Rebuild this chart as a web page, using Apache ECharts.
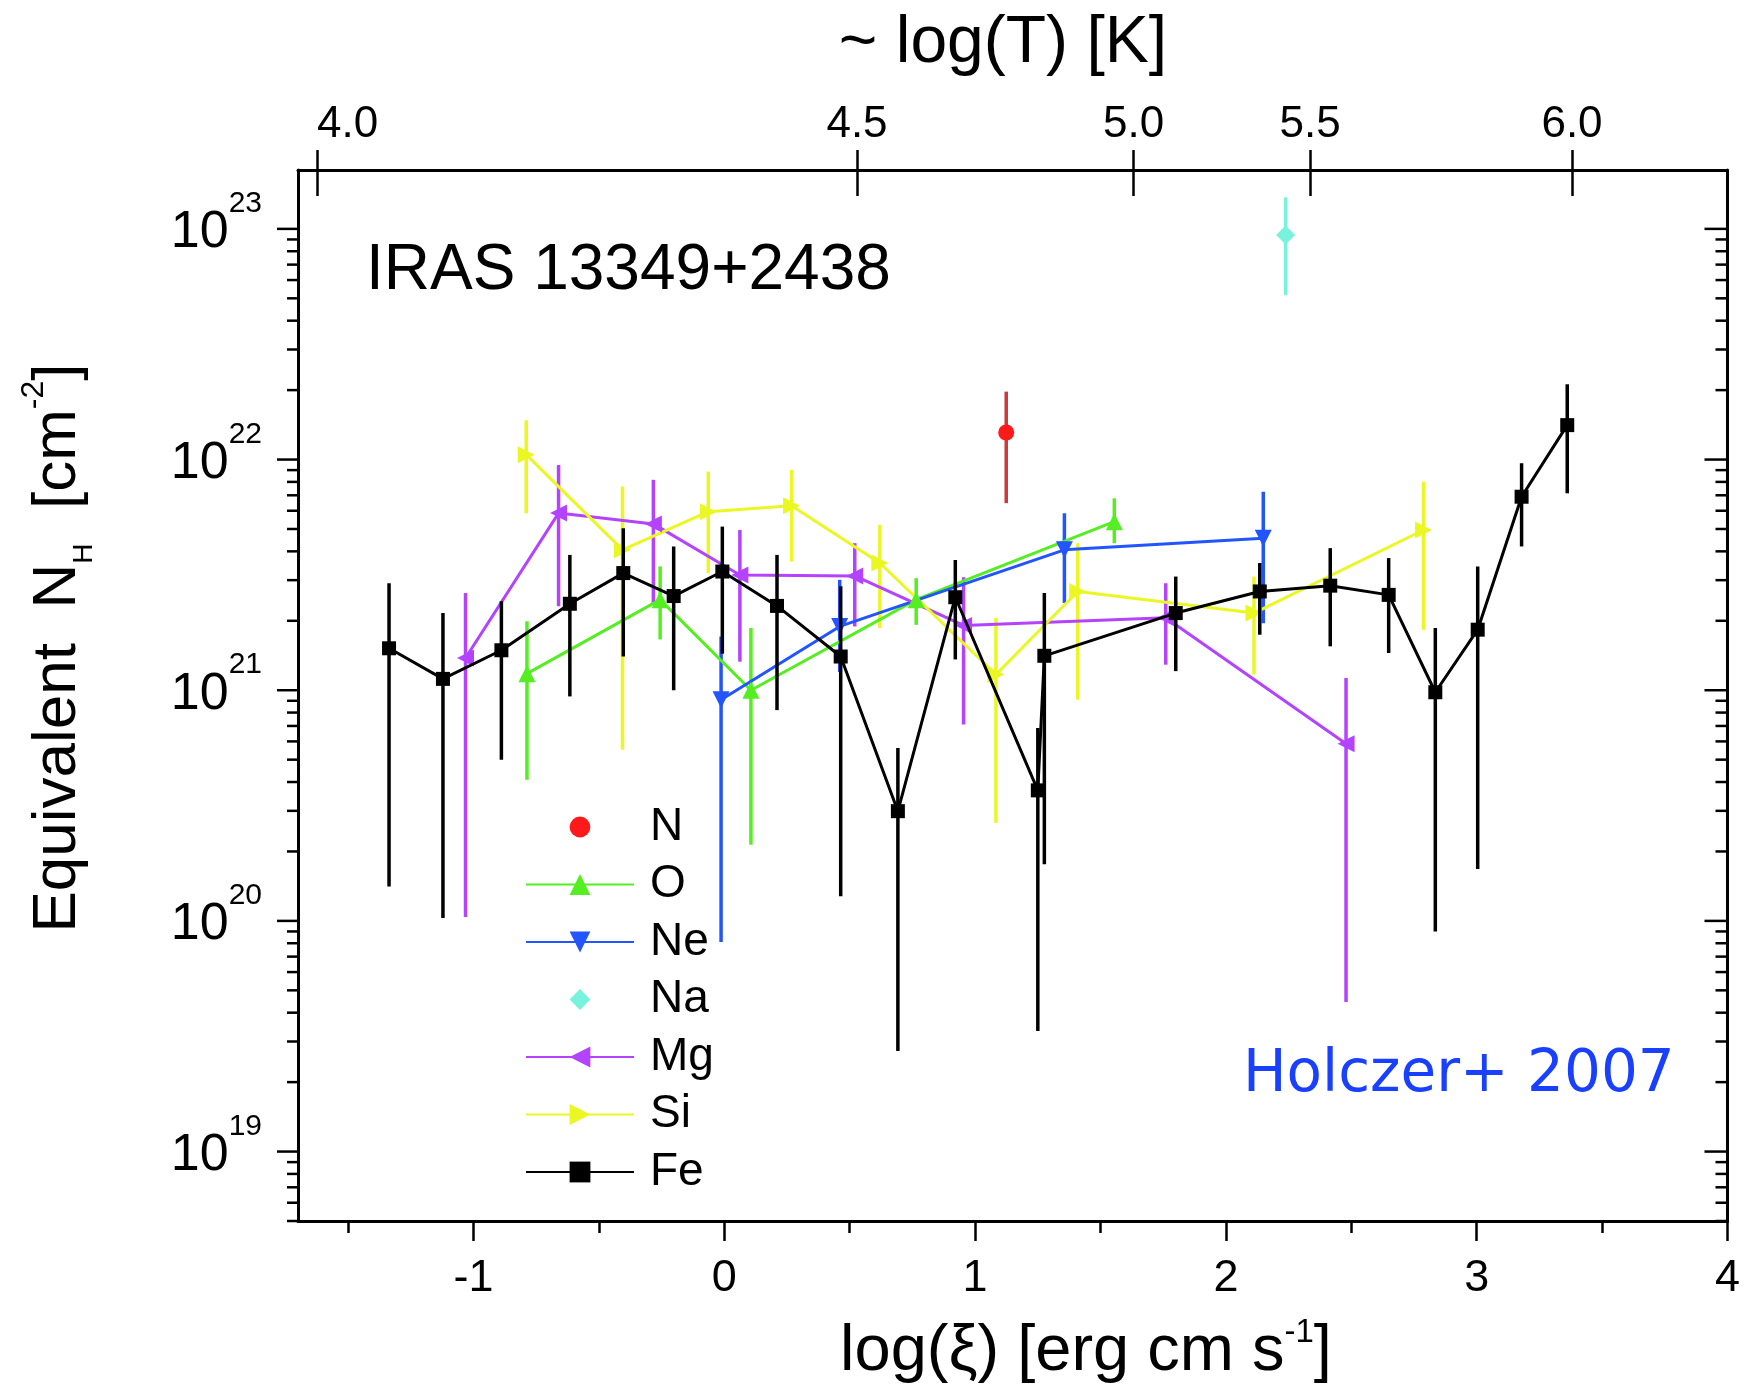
<!DOCTYPE html>
<html>
<head>
<meta charset="utf-8">
<script src="https://cdn.jsdelivr.net/npm/echarts@6/dist/echarts.min.js"></script>
<style>
html,body{margin:0;padding:0;background:#fff;}
#chart{width:1743px;height:1394px;}
</style>
</head>
<body>
<div id="chart"></div>
<script>
// ---------------- data ----------------
const feX  = [-1.337,-1.122,-0.889,-0.616,-0.403,-0.202,-0.008,0.210,0.464,0.692,0.921,1.250,1.276,1.800,2.135,2.416,2.649,2.835,3.004,3.179,3.361];
const feY  = [1.52e21,1.12e21,1.49e21,2.37e21,3.22e21,2.56e21,3.27e21,2.32e21,1.40e21,2.99e20,2.53e21,3.68e20,1.41e21,2.16e21,2.68e21,2.84e21,2.59e21,9.8e20,1.83e21,6.90e21,1.41e22];
const feLo = [1.41e20,1.03e20,5.0e20,9.4e20,1.40e21,1.00e21,1.44e21,8.2e20,1.28e20,2.73e19,1.36e21,3.33e19,1.76e20,1.21e21,1.74e21,1.55e21,1.45e21,9.0e19,1.68e20,4.20e21,7.14e21];
const feHi = [2.91e21,2.16e21,2.43e21,3.86e21,5.04e21,4.20e21,5.12e21,3.86e21,2.82e21,5.62e20,3.67e21,6.85e20,2.64e21,3.11e21,3.56e21,4.13e21,3.74e21,1.86e21,3.44e21,9.64e21,2.12e22];

const nX = [1.124], nY = [1.31e22], nLo = [6.47e21], nHi = [1.97e22];
const naX = [2.238], naY = [9.4e22], naLo = [5.16e22], naHi = [1.37e23];

const oX  = [-0.787,-0.256,0.106,0.765,1.555];
const oY  = [1.18e21,2.47e21,1.00e21,2.47e21,5.38e21];
const oLo = [4.09e20,1.66e21,2.14e20,1.92e21,4.34e21];
const oHi = [1.99e21,3.44e21,1.86e21,3.06e21,6.79e21];

const neX  = [-0.013,0.460,1.356,2.149];
const neY  = [9.1e20,1.89e21,4.06e21,4.56e21];
const neLo = [8.1e19,1.2e21,2.39e21,1.95e21];
const neHi = [1.71e21,3.01e21,5.85e21,7.26e21];

const mgX  = [-1.032,-0.661,-0.283,0.062,0.520,0.954,1.760,2.479];
const mgY  = [1.38e21,5.86e21,5.26e21,3.16e21,3.13e21,1.91e21,2.06e21,5.86e20];
const mgLo = [1.04e20,2.31e21,2.39e21,1.33e21,1.89e21,7.1e20,1.29e21,4.45e19];
const mgHi = [2.64e21,9.48e21,8.17e21,4.95e21,4.34e21,3.09e21,2.91e21,1.13e21];

const siX  = [-0.790,-0.406,-0.064,0.268,0.620,1.083,1.409,2.112,2.788];
const siY  = [1.05e22,4.06e21,5.94e21,6.30e21,3.56e21,1.17e21,2.68e21,2.16e21,4.95e21];
const siLo = [5.85e21,5.52e20,3.22e21,3.61e21,1.86e21,2.66e20,9.1e20,1.17e21,1.83e21];
const siHi = [1.48e22,7.64e21,8.87e21,9.02e21,5.21e21,2.06e21,4.34e21,3.11e21,8.02e21];

// axis ticks / labels
const xMajorTicks = [-1,0,1,2,3,4];
const xMinorTicks = [-1.5,-0.5,0.5,1.5,2.5,3.5];
const topTickXi = [-1.624,0.529,1.632,2.336,3.380];
const topTickLabels = ['4.0','4.5','5.0','5.5','6.0'];
const yMajorTicks = [1e19,1e20,1e21,1e22,1e23];
const yMinorTicks = [5e18,6e18,7e18,8e18,9e18,
  2e19,3e19,4e19,5e19,6e19,7e19,8e19,9e19,
  2e20,3e20,4e20,5e20,6e20,7e20,8e20,9e20,
  2e21,3e21,4e21,5e21,6e21,7e21,8e21,9e21,
  2e22,3e22,4e22,5e22,6e22,7e22,8e22,9e22];

const X_MIN = -1.7, X_MAX = 4, Y_MIN = 5e18, Y_MAX = 1.8e23;
const FONT = '"Liberation Sans", Arial, Helvetica, sans-serif';

const C = {N:'#ff1a1a', Nerr:'#cc3a3a', O:'#55ee22', Ne:'#2255ff', Na:'#77f2dc', Mg:'#b443ff', Si:'#eaf723', Fe:'#000000'};

function pts(xs, ys){ return xs.map((x,i)=>[x, ys[i]]); }
function bars(xs, lo, hi){ return xs.map((x,i)=>[x, lo[i], hi[i]]); }

function errSeries(name, xs, lo, hi, color, z){
  return {
    name: name, type:'custom', z: z, clip:false, silent:true,
    data: bars(xs, lo, hi),
    encode:{x:0, y:[1,2]},
    renderItem: function(params, api){
      const a = api.coord([api.value(0), api.value(1)]);
      const b = api.coord([api.value(0), api.value(2)]);
      return {type:'line', shape:{x1:a[0], y1:a[1], x2:b[0], y2:b[1]},
              style:{stroke:color, lineWidth:3.5}};
    }
  };
}
function lineSeries(name, xs, ys, color, symbol, size, rot, z, noLine){
  return {
    name:name, type:'line', z:z, data: pts(xs, ys),
    symbol:symbol, symbolSize:size, symbolRotate:rot, showSymbol:true, symbolKeepAspect:true,
    itemStyle:{color:color}, lineStyle:{color:color, width:3, opacity: noLine ? 0 : 1},
    emphasis:{disabled:true}
  };
}
function yTickSeries(vals, len, inLen, width){
  return {
    type:'custom', z:20, clip:false, silent:true,
    data: vals.map(v=>[X_MIN, v]),
    encode:{x:0, y:1},
    renderItem: function(params, api){
      const l = api.coord([X_MIN, api.value(1)]);
      const r = api.coord([X_MAX, api.value(1)]);
      return {type:'group', children:[
        {type:'line', shape:{x1:l[0]-len, y1:l[1], x2:l[0], y2:l[1]}, style:{stroke:'#000', lineWidth:width}},
        {type:'line', shape:{x1:r[0]-inLen, y1:r[1], x2:r[0], y2:r[1]}, style:{stroke:'#000', lineWidth:width}}
      ]};
    }
  };
}

function sup10(v){
  const e = Math.log10(v);
  const r = Math.round(e);
  if (Math.abs(e - r) > 1e-6) return '';
  return '{b|10}{s|' + r + '}';
}

const chart = echarts.init(document.getElementById('chart'), null, {renderer:'canvas'});
const option = {
  animation:false,
  backgroundColor:'#fff',
  grid:{left:298, top:170, right:12, bottom:173, containLabel:false},
  legend:{
    orient:'vertical', left:525, top:804, padding:0,
    data:['N','O','Ne','Na','Mg','Si','Fe'],
    itemWidth:108, itemHeight:26, itemGap:11.5,
    textStyle:{fontFamily:FONT, fontSize:46, color:'#000', lineHeight:46, padding:[0,0,0,11]},
    selectedMode:false
  },
  xAxis:[
    {type:'value', position:'bottom', min:X_MIN, max:X_MAX,
     axisLine:{show:true, onZero:false, lineStyle:{color:'#000', width:3}},
     axisTick:{show:true, inside:false, length:20, customValues:xMajorTicks, lineStyle:{color:'#000', width:2.5}},
     axisLabel:{show:true, customValues:xMajorTicks, margin:35, fontFamily:FONT, fontSize:45, color:'#000'},
     splitLine:{show:false}},
    {type:'value', position:'bottom', min:X_MIN, max:X_MAX,
     axisLine:{show:false, onZero:false},
     axisTick:{show:true, inside:false, length:12, customValues:xMinorTicks, lineStyle:{color:'#000', width:2.5}},
     axisLabel:{show:false}, splitLine:{show:false}},
    {type:'value', position:'top', min:X_MIN, max:X_MAX,
     axisLine:{show:true, onZero:false, lineStyle:{color:'#000', width:3}},
     axisTick:{show:true, inside:false, length:20, customValues:topTickXi, lineStyle:{color:'#000', width:2.5}},
     axisLabel:{show:true, customValues:topTickXi, margin:23, alignMinLabel:'left', fontFamily:FONT, fontSize:44, color:'#000',
       formatter:function(v){
         let best = 0, d = 1e9;
         topTickXi.forEach((t,i)=>{ if(Math.abs(t-v)<d){d=Math.abs(t-v); best=i;} });
         return topTickLabels[best];
       }},
     splitLine:{show:false}},
    {type:'value', position:'top', min:X_MIN, max:X_MAX,
     axisLine:{show:false, onZero:false},
     axisTick:{show:true, inside:true, length:26, customValues:topTickXi, lineStyle:{color:'#000', width:2.5}},
     axisLabel:{show:false}, splitLine:{show:false}}
  ],
  yAxis:[
    {type:'log', logBase:10, position:'left', min:Y_MIN, max:Y_MAX,
     axisLine:{show:true, onZero:false, lineStyle:{color:'#000', width:3}},
     axisTick:{show:false},
     axisLabel:{show:true, margin:36, formatter:sup10,
       rich:{
         b:{fontFamily:FONT, fontSize:52, lineHeight:52, color:'#000', verticalAlign:'middle', padding:[8,0,0,0]},
         s:{fontFamily:FONT, fontSize:30, lineHeight:30, color:'#000', verticalAlign:'middle', padding:[0,0,50,0]}
       }},
     splitLine:{show:false}},
    {type:'log', logBase:10, position:'right', min:Y_MIN, max:Y_MAX,
     axisLine:{show:true, onZero:false, lineStyle:{color:'#000', width:3}},
     axisTick:{show:false}, axisLabel:{show:false}, splitLine:{show:false}}
  ],
  series:[
    yTickSeries(yMajorTicks, 21, 23, 2.5),
    yTickSeries(yMinorTicks, 11, 12, 2.5),
    errSeries('N-err', nX, nLo, nHi, C.Nerr, 2),
    lineSeries('N', nX, nY, C.N, 'circle', 16, 0, 3, true),
    errSeries('O-err', oX, oLo, oHi, C.O, 2),
    lineSeries('O', oX, oY, C.O, 'triangle', 17, 0, 3),
    errSeries('Ne-err', neX, neLo, neHi, C.Ne, 2),
    lineSeries('Ne', neX, neY, C.Ne, 'triangle', 17, 180, 3),
    errSeries('Na-err', naX, naLo, naHi, C.Na, 2),
    lineSeries('Na', naX, naY, C.Na, 'diamond', 19, 0, 3, true),
    errSeries('Mg-err', mgX, mgLo, mgHi, C.Mg, 2),
    lineSeries('Mg', mgX, mgY, C.Mg, 'triangle', 17, 90, 3),
    errSeries('Si-err', siX, siLo, siHi, C.Si, 2),
    lineSeries('Si', siX, siY, C.Si, 'triangle', 17, -90, 3),
    errSeries('Fe-err', feX, feLo, feHi, C.Fe, 4),
    lineSeries('Fe', feX, feY, C.Fe, 'rect', 14, 0, 5)
  ],
  graphic:[
    {type:'text', position:[366,271], z:30,
     style:{text:'IRAS 13349+2438', fontFamily:FONT, fontSize:64, fill:'#000', align:'left', verticalAlign:'middle'}},
    {type:'text', position:[1243,1076], z:30,
     style:{text:'Holczer+ 2007', fontFamily:'"DejaVu Sans", Verdana, sans-serif', fontSize:58, fill:'#1a40ff', align:'left', verticalAlign:'middle'}},
    {type:'text', position:[1003,44], z:30,
     style:{text:'~ log(T) [K]', fontFamily:FONT, fontSize:66, fill:'#000', align:'center', verticalAlign:'middle'}},
    {type:'text', position:[1086,1352], z:30,
     style:{text:'{a|log(ξ) [erg cm s}{p|-1}{a|]}', align:'center', verticalAlign:'middle',
       rich:{
         a:{fontFamily:FONT, fontSize:65, lineHeight:72, fill:'#000', color:'#000', verticalAlign:'middle'},
         p:{fontFamily:FONT, fontSize:33, lineHeight:40, fill:'#000', color:'#000', verticalAlign:'top'}
       }}},
    {type:'text', position:[58,648], rotation:Math.PI/2, z:30,
     style:{text:'{a|Equivalent  N}{b|H}{a|  [cm}{p|-2}{a|]}', align:'center', verticalAlign:'middle',
       rich:{
         a:{fontFamily:FONT, fontSize:62, lineHeight:80, fill:'#000', color:'#000', verticalAlign:'middle'},
         b:{fontFamily:FONT, fontSize:28, lineHeight:28, fill:'#000', color:'#000', verticalAlign:'bottom'},
         p:{fontFamily:FONT, fontSize:32, lineHeight:30, fill:'#000', color:'#000', verticalAlign:'top'}
       }}}
  ]
};
chart.setOption(option);
</script>
</body>
</html>
